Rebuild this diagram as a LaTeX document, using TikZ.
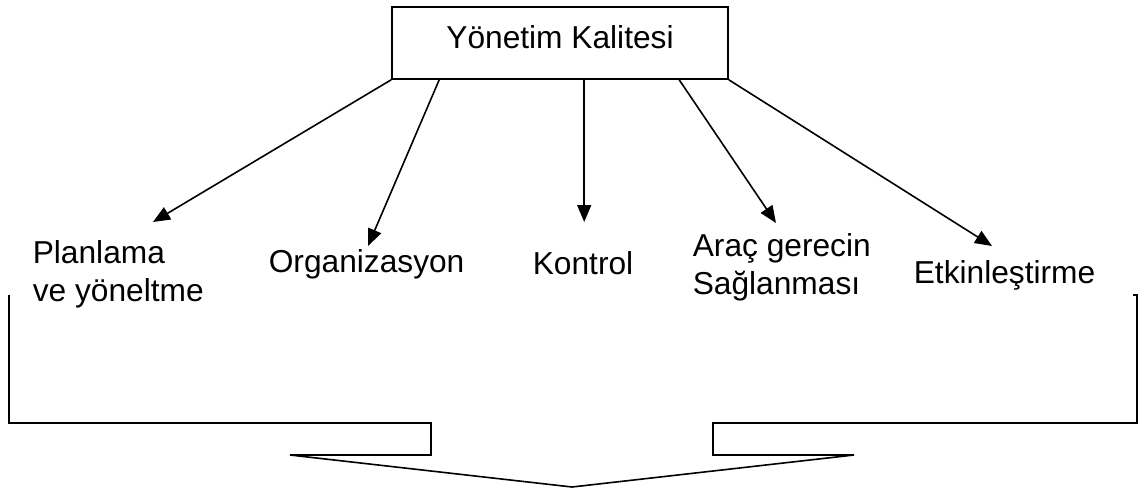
\documentclass[tikz,border=0pt]{standalone}
\usepackage{fontspec}
\setmainfont{Liberation Sans}
\usetikzlibrary{arrows.meta}

\begin{document}
\begin{tikzpicture}[x=1pt, y=-1pt, line width=1.6pt,
  txt/.style={font=\fontsize{31.7}{38}\selectfont},
  lbl/.style={txt, inner sep=0pt, anchor=base west},
  link/.style={-{Triangle[length=17pt,width=14pt]}},
  brace/.style={line join=miter}]
\useasboundingbox (0,0) rectangle (1144,490);

% head box
\node[draw, txt, inner sep=0pt, minimum width=336pt,
      text height=41pt, text depth=31pt, anchor=base] (top) at (560,48) {Yönetim Kalitesi};

% the five components
\node[lbl] (plan) at (32,263) {\begin{tabular}[t]{@{}l@{}}Planlama\\ve yöneltme\end{tabular}};
\node[lbl] (org)  at (268,272) {Organizasyon};
\node[lbl] (kon)  at (532,274) {Kontrol};
\node[lbl] (arac) at (692,256) {\begin{tabular}[t]{@{}l@{}}Araç gerecin\\Sağlanması\end{tabular}};
\node[lbl] (etk)  at (913,283) {Etkinleştirme};

% connector start points on the lower edge of the head box
\coordinate (s2) at ([xshift=48pt]top.south west);
\coordinate (s3) at ([xshift=193pt]top.south west);
\coordinate (s4) at ([xshift=288pt]top.south west);

% arrow tips above each component
\coordinate (t1) at (153,222);
\coordinate (t2) at (368,246);
\coordinate (t3) at (s3 |- 0,222);
\coordinate (t4) at (776,223);
\coordinate (t5) at (992,246);

\draw[link] (top.south west) -- (t1);
\draw[link] (s2) -- (t2);
\draw[link] (s3) -- (t3);
\draw[link] (s4) -- (t4);
\draw[link] (top.south east) -- (t5);

% gathering bracket with a downward point
\draw[brace] (9,295) -- (9,423) -- (431,423) -- (431,455) -- (290,455)
  -- (572,487) -- (854,455) -- (713,455) -- (713,423) -- (1137,423)
  -- (1137,295) -- (1133,295);
\end{tikzpicture}
\end{document}
